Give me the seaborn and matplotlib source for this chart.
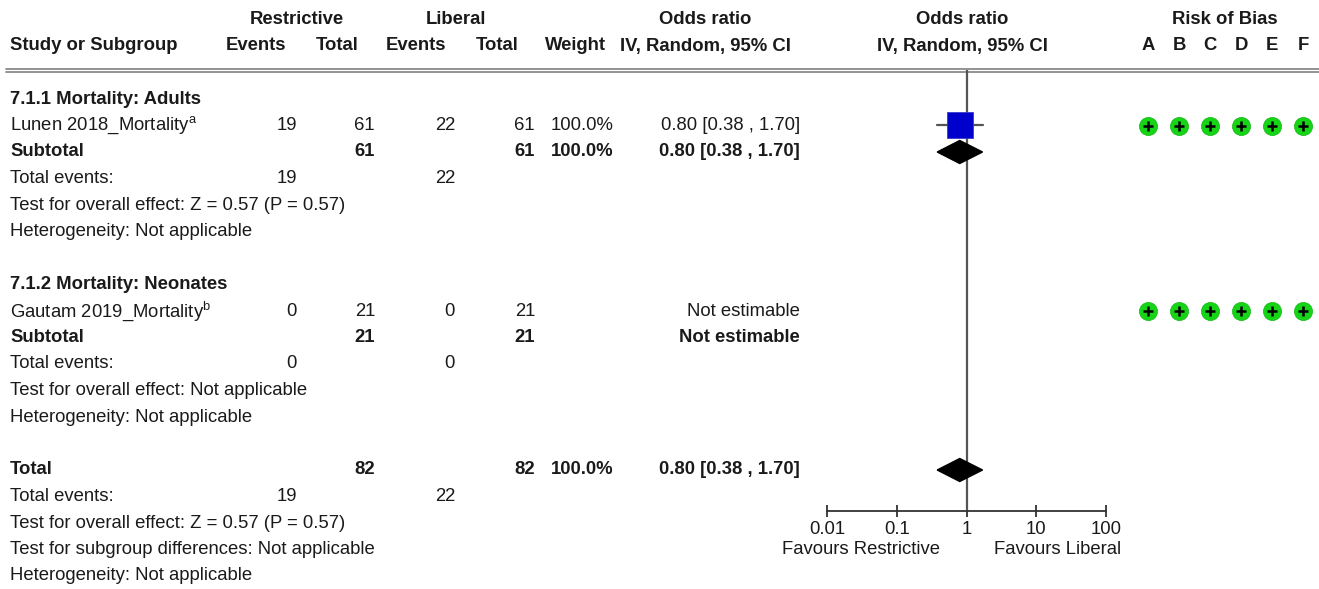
import numpy as np
import pandas as pd
import matplotlib
matplotlib.use("Agg")
import matplotlib.pyplot as plt
import seaborn as sns

# --- data -------------------------------------------------------------
subgroups = ["7.1.1 Mortality: Adults", "7.1.2 Mortality: Neonates"]
studies = ["Lunen 2018_Mortality", "Gautam 2019_Mortality"]
footnotes = ["a", "b"]
restrictive_events = [19, 0]
restrictive_total = [61, 21]
liberal_events = [22, 0]
liberal_total = [61, 21]
weights = [100.0, None]
odds_ratio = [0.80, None]
ci_low = [0.38, None]
ci_high = [1.70, None]
overall_effect = ["Z = 0.57 (P = 0.57)", "Not applicable"]
risk_of_bias = [["+"] * 6, ["+"] * 6]
rob_domains = ["A", "B", "C", "D", "E", "F"]

total_restrictive = 82
total_liberal = 82
total_events_restrictive = 19
total_events_liberal = 22
total_or = 0.80
total_low = 0.38
total_high = 1.70
total_z = "Z = 0.57 (P = 0.57)"

axis_ticks = [0.01, 0.1, 1, 10, 100]
axis_labels = ["0.01", "0.1", "1", "10", "100"]

# --- style ------------------------------------------------------------
sns.set_style("white")
plt.rcParams["font.family"] = ["Liberation Sans", "DejaVu Sans"]
plt.rcParams["mathtext.fontset"] = "custom"
plt.rcParams["mathtext.rm"] = "Liberation Sans"

FS = 13.3
TXT = "#1a1a1a"
W, H = 1319, 589

fig = plt.figure(figsize=(W / 100, H / 100), dpi=100)
ax = fig.add_axes([0, 0, 1, 1])
ax.set_xlim(0, W)
ax.set_ylim(H, 0)
ax.axis("off")


def row_y(i):
    return 99 + 26.5 * i


def txt(x, y, s, ha="left", bold=False, **kw):
    ax.text(x, y, s, ha=ha, va="center", fontsize=kw.pop("fs", FS), color=TXT,
            fontweight="bold" if bold else "normal", **kw)


# column anchors (right edges of numbers)
c_re, c_rt, c_le, c_lt, c_w, c_or = 297, 375, 455, 535, 614, 800
rob_x = [1148, 1179, 1210, 1241, 1272, 1303]

# headers
txt(297, 19, "Restrictive", ha="center", bold=True)
txt(456, 19, "Liberal", ha="center", bold=True)
txt(705, 19, "Odds ratio", ha="center", bold=True)
txt(962, 19, "Odds ratio", ha="center", bold=True)
txt(1225, 19, "Risk of Bias", ha="center", bold=True)
txt(10, 46, "Study or Subgroup", bold=True)
txt(256, 46, "Events", ha="center", bold=True)
txt(337, 46, "Total", ha="center", bold=True)
txt(416, 46, "Events", ha="center", bold=True)
txt(497, 46, "Total", ha="center", bold=True)
txt(575, 46, "Weight", ha="center", bold=True)
txt(705, 46, "IV, Random, 95% CI", ha="center", bold=True)
txt(962, 46, "IV, Random, 95% CI", ha="center", bold=True)
for x, d in zip(rob_x, rob_domains):
    txt(x, 46, d, ha="center", bold=True)

# double rule under header
ax.plot([6, W], [69, 69], color="#8a8a8a", lw=1.3)
ax.plot([6, W], [71.5, 71.5], color="#8a8a8a", lw=1.3)

# forest axes
fx0, fx1, fy0, fy1 = 827, 1106, 70, 511
fax = fig.add_axes([fx0 / W, 1 - fy1 / H, (fx1 - fx0) / W, (fy1 - fy0) / H])
fax.set_xscale("log")
fax.set_xlim(0.01, 100)
fax.set_ylim(fy1, fy0)
fax.patch.set_alpha(0)
for s in ["top", "left", "right"]:
    fax.spines[s].set_visible(False)
fax.spines["bottom"].set_color("#333333")
fax.spines["bottom"].set_linewidth(1.3)
fax.set_xticks(axis_ticks)
fax.set_xticklabels(axis_labels)
fax.minorticks_off()
fax.tick_params(axis="x", direction="inout", length=8, width=1.3,
                color="#333333", labelsize=FS, labelcolor=TXT, pad=3,
                bottom=True)
fax.set_yticks([])
fax.axvline(1, color="#555555", lw=1.6, zorder=1)

rows = []
r = 0
for g in range(len(studies)):
    txt(10, row_y(r), subgroups[g], bold=True)
    y = row_y(r + 1)
    txt(10, y, studies[g] + r"$^{\mathregular{%s}}$" % footnotes[g])
    txt(c_re, y, str(restrictive_events[g]), ha="right")
    txt(c_rt, y, str(restrictive_total[g]), ha="right")
    txt(c_le, y, str(liberal_events[g]), ha="right")
    txt(c_lt, y, str(liberal_total[g]), ha="right")
    ys = row_y(r + 2)
    txt(10, ys, "Subtotal", bold=True)
    txt(c_rt, ys, str(restrictive_total[g]), ha="right", bold=True)
    txt(c_lt, ys, str(liberal_total[g]), ha="right", bold=True)
    if odds_ratio[g] is not None:
        txt(c_w, y, f"{weights[g]:.1f}%", ha="right")
        txt(c_or, y, f"{odds_ratio[g]:.2f} [{ci_low[g]:.2f} , {ci_high[g]:.2f}]", ha="right")
        txt(c_w, ys, f"{weights[g]:.1f}%", ha="right", bold=True)
        txt(c_or, ys, f"{odds_ratio[g]:.2f} [{ci_low[g]:.2f} , {ci_high[g]:.2f}]",
            ha="right", bold=True)
        rows.append(dict(y=y, orr=odds_ratio[g], lo=ci_low[g], hi=ci_high[g],
                         w=weights[g], ys=ys))
    else:
        txt(c_or, y, "Not estimable", ha="right")
        txt(c_or, ys, "Not estimable", ha="right", bold=True)
    yt = row_y(r + 3)
    txt(10, yt, "Total events:")
    txt(c_re, yt, str(restrictive_events[g]), ha="right")
    txt(c_le, yt, str(liberal_events[g]), ha="right")
    txt(10, row_y(r + 4), "Test for overall effect: " + overall_effect[g])
    txt(10, row_y(r + 5), "Heterogeneity: Not applicable")
    # risk of bias circles
    rob_df = pd.DataFrame({"x": rob_x, "y": [y] * 6, "j": risk_of_bias[g]})
    sns.scatterplot(data=rob_df, x="x", y="y", ax=ax, s=170, color="#16d416",
                    edgecolor="#11b811", linewidth=0.5, legend=False, zorder=3)
    ax.scatter(rob_df["x"], rob_df["y"], marker="+", s=45, color="black",
               linewidth=1.8, zorder=4)
    r += 7

# overall
yT = row_y(r)
txt(10, yT, "Total", bold=True)
txt(c_rt, yT, str(total_restrictive), ha="right", bold=True)
txt(c_lt, yT, str(total_liberal), ha="right", bold=True)
txt(c_w, yT, "100.0%", ha="right", bold=True)
txt(c_or, yT, f"{total_or:.2f} [{total_low:.2f} , {total_high:.2f}]", ha="right", bold=True)
txt(10, row_y(r + 1), "Total events:")
txt(c_re, row_y(r + 1), str(total_events_restrictive), ha="right")
txt(c_le, row_y(r + 1), str(total_events_liberal), ha="right")
txt(10, row_y(r + 2), "Test for overall effect: " + total_z)
txt(10, row_y(r + 3), "Test for subgroup differences: Not applicable")
txt(10, row_y(r + 4), "Heterogeneity: Not applicable")

# forest marks
half = 11.5
for d in rows:
    fax.plot([d["lo"], d["hi"]], [d["y"], d["y"]], color="#555555", lw=1.6, zorder=2)
    sq = pd.DataFrame({"x": [d["orr"]], "y": [d["y"]]})
    sns.scatterplot(data=sq, x="x", y="y", ax=fax, marker="s", s=330,
                    color="#0000cc", edgecolor="#3a3ad0", linewidth=0.6,
                    legend=False, zorder=3, clip_on=False)
    fax.fill([d["lo"], d["orr"], d["hi"], d["orr"]],
             [d["ys"], d["ys"] - half, d["ys"], d["ys"] + half],
             color="black", zorder=3)
fax.fill([total_low, total_or, total_high, total_or],
         [yT, yT - half, yT, yT + half], color="black", zorder=3, clip_on=False)
fax.set_xlabel("")
fax.set_ylabel("")
ax.set_xlabel("")
ax.set_ylabel("")

txt(861, 550, "Favours Restrictive", ha="center")
txt(1121, 550, "Favours Liberal", ha="right")

fig.savefig("out.png", dpi=100)
